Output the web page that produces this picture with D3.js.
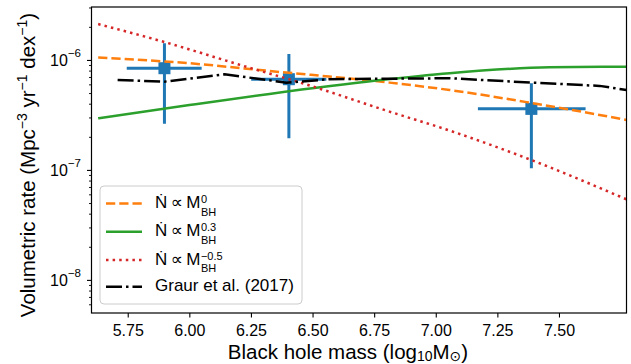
<!DOCTYPE html>
<html>
<head>
<meta charset="utf-8">
<script src="https://cdn.jsdelivr.net/npm/d3@7"></script>
<style>
    body { margin: 0; background: #fff; }
    svg text { font-family: "Liberation Sans", Arial, "DejaVu Sans", sans-serif; fill: #000; }
</style>
</head>
<body>
<svg id="chart" width="631" height="364"></svg>
<script>
// ---- data ----
var xTicks = [5.75, 6.00, 6.25, 6.50, 6.75, 7.00, 7.25, 7.50];
var yTicks = [1e-8, 1e-7, 1e-6];
var yTickExp = ["\u22128", "\u22127", "\u22126"];
var yMinorTicks = [6e-9, 7e-9, 8e-9, 9e-9, 2e-8, 3e-8, 4e-8, 5e-8, 6e-8, 7e-8, 8e-8, 9e-8,
    2e-7, 3e-7, 4e-7, 5e-7, 6e-7, 7e-7, 8e-7, 9e-7, 2e-6, 3e-6];

// N ~ M^0
var slope0Mass = [5.63, 6.0, 6.325, 6.812, 7.056, 7.381, 7.774];
var slope0Rate = [1.05e-6, 9.33e-7, 7.94e-7, 6.22e-7, 5.33e-7, 4.09e-7, 2.85e-7];
// N ~ M^0.3
var slope03Mass = [5.63, 6.0, 6.325, 6.759, 7.056, 7.462, 7.774];
var slope03Rate = [2.95e-7, 3.89e-7, 4.91e-7, 6.49e-7, 7.57e-7, 8.59e-7, 8.69e-7];
// N ~ M^-0.5
var slopeM05Mass = [5.63, 5.892, 6.244, 6.459, 6.812, 7.056, 7.388, 7.774];
var slopeM05Rate = [2.12e-6, 1.47e-6, 8.5e-7, 6.14e-7, 3.39e-7, 2.28e-7, 1.23e-7, 5.4e-8];
// Graur et al. (2017)
var graurMass = [5.709, 5.899, 6.143, 6.394, 6.569, 7.056, 7.393, 7.665, 7.774];
var graurRate = [6.58e-7, 6.35e-7, 7.41e-7, 6.22e-7, 6.68e-7, 6.82e-7, 6.22e-7, 5.81e-7, 5.33e-7];

// binned rates with error bars
var binMass = [5.899, 6.404, 7.388];
var binMassLo = [5.746, 6.251, 7.171];
var binMassHi = [6.05, 6.556, 7.608];
var binRate = [8.41e-7, 6.68e-7, 3.59e-7];
var binRateLo = [2.63e-7, 1.94e-7, 1.035e-7];
var binRateHi = [1.42e-6, 1.135e-6, 6.14e-7];

var legendSup = ["0", "0.3", "\u22120.5"];

// ---- layout ----
var plot = {left: 91.5, right: 626.5, top: 7, bottom: 313};
var svg = d3.select("#chart");

var x = d3.scaleLinear().domain([5.603, 7.774]).range([plot.left, plot.right]);
var y = d3.scaleLog().domain([5.0e-9, 3.03e-6]).range([plot.bottom, plot.top]);

function zip(xs, ys) {
    return xs.map(function (d, i) { return {m: d, r: ys[i]}; });
}

svg.append("clipPath").attr("id", "clip")
    .append("rect")
    .attr("x", plot.left).attr("y", plot.top)
    .attr("width", plot.right - plot.left).attr("height", plot.bottom - plot.top);

var body = svg.append("g").attr("clip-path", "url(#clip)");

// error bars first, model lines on top
var bars = body.append("g").attr("stroke", "#1f77b4").attr("stroke-width", 3);
binMass.forEach(function (m, i) {
    bars.append("line")
        .attr("x1", x(binMassLo[i])).attr("x2", x(binMassHi[i]))
        .attr("y1", y(binRate[i])).attr("y2", y(binRate[i]));
    bars.append("line")
        .attr("x1", x(m)).attr("x2", x(m))
        .attr("y1", y(binRateLo[i])).attr("y2", y(binRateHi[i]));
});
body.append("g").selectAll("rect")
    .data(zip(binMass, binRate))
    .enter().append("rect")
    .attr("x", function (d) { return x(d.m) - 6; })
    .attr("y", function (d) { return y(d.r) - 6; })
    .attr("width", 12).attr("height", 12)
    .attr("fill", "#1f77b4");

var smooth = d3.line()
    .x(function (d) { return x(d.m); })
    .y(function (d) { return y(d.r); })
    .curve(d3.curveMonotoneX);
var straight = d3.line()
    .x(function (d) { return x(d.m); })
    .y(function (d) { return y(d.r); });

var series = [
    {data: zip(slope0Mass, slope0Rate), color: "#ff7f0e", dash: "9.25,4", line: smooth},
    {data: zip(slope03Mass, slope03Rate), color: "#2ca02c", dash: null, line: smooth},
    {data: zip(slopeM05Mass, slopeM05Rate), color: "#d62728", dash: "2.5,4.1", line: smooth},
    {data: zip(graurMass, graurRate), color: "#000", dash: "16,4,2.5,4", line: straight}
];

series.forEach(function (s) {
    body.append("path")
        .datum(s.data)
        .attr("d", s.line)
        .attr("fill", "none")
        .attr("stroke", s.color)
        .attr("stroke-width", 2.5)
        .attr("stroke-dasharray", s.dash);
});

// ---- axes ----
var xAxis = svg.append("g")
    .attr("transform", "translate(0," + plot.bottom + ")")
    .call(d3.axisBottom(x).tickValues(xTicks).tickSize(4.5).tickFormat(d3.format(".2f")));
xAxis.select(".domain").remove();
xAxis.selectAll("text").attr("y", 23).attr("dy", 0).attr("font-size", 16);
xAxis.selectAll("line").attr("stroke-width", 1.1);

var yAxis = svg.append("g")
    .attr("transform", "translate(" + plot.left + ",0)")
    .call(d3.axisLeft(y).tickValues(yTicks).tickSize(4.5).tickFormat(""));
yAxis.select(".domain").remove();
yAxis.selectAll("line").attr("stroke-width", 1.1);

var yMinor = svg.append("g")
    .attr("transform", "translate(" + plot.left + ",0)")
    .call(d3.axisLeft(y).tickValues(yMinorTicks).tickSize(2.5).tickFormat(""));
yMinor.select(".domain").remove();
yMinor.selectAll("line").attr("stroke-width", 0.9);

yTicks.forEach(function (v, i) {
    var t = svg.append("text")
        .attr("x", 81).attr("y", y(v) + 6)
        .attr("text-anchor", "end")
        .attr("font-size", 16)
        .text("10");
    t.append("tspan").attr("dy", -8.5).attr("font-size", 11.5).text(yTickExp[i]);
});

svg.append("rect")
    .attr("x", plot.left).attr("y", plot.top)
    .attr("width", plot.right - plot.left).attr("height", plot.bottom - plot.top)
    .attr("fill", "none").attr("stroke", "#000").attr("stroke-width", 1.2);

// axis labels
var xLabel = svg.append("text")
    .attr("x", 348).attr("y", 358.5)
    .attr("text-anchor", "middle")
    .attr("font-size", 20.5)
    .text("Black hole mass (log");
xLabel.append("tspan").attr("dy", 2.5).attr("font-size", 14).text("10");
xLabel.append("tspan").attr("dy", -2.5).text("M");
xLabel.append("tspan").attr("dy", 2.5).attr("font-size", 14).text("\u2299");
xLabel.append("tspan").attr("dy", -2.5).text(")");

var yLabel = svg.append("text")
    .attr("transform", "translate(35,165) rotate(-90)")
    .attr("text-anchor", "middle")
    .attr("font-size", 20.5)
    .text("Volumetric rate (Mpc");
yLabel.append("tspan").attr("dy", -8).attr("font-size", 14).text("\u22123");
yLabel.append("tspan").attr("dy", 8).text(" yr");
yLabel.append("tspan").attr("dy", -8).attr("font-size", 14).text("\u22121");
yLabel.append("tspan").attr("dy", 8).text(" dex");
yLabel.append("tspan").attr("dy", -8).attr("font-size", 14).text("\u22121");
yLabel.append("tspan").attr("dy", 8).text(")");

// ---- legend ----
var legend = svg.append("g");
legend.append("rect")
    .attr("x", 100).attr("y", 186).attr("width", 202).attr("height", 118)
    .attr("rx", 4)
    .attr("fill", "#fff").attr("fill-opacity", 0.8)
    .attr("stroke", "#cccccc").attr("stroke-width", 1);

var baselines = [208, 236.3, 264.6, 291.3];
series.forEach(function (s, i) {
    var yb = baselines[i];
    legend.append("line")
        .attr("x1", 106).attr("x2", 142)
        .attr("y1", yb - 4.5).attr("y2", yb - 4.5)
        .attr("stroke", s.color).attr("stroke-width", 2.5)
        .attr("stroke-dasharray", s.dash);

    var label = legend.append("text")
        .attr("x", 155).attr("y", yb)
        .attr("font-size", 17);
    if (i < 3) {
        // stacked super/subscript: M^p_BH
        label.append("tspan").text("\u1E44\u2009\u221D\u2009M");
        var w = label.node().getComputedTextLength();
        label.append("tspan")
            .attr("x", 155 + w + 0.5).attr("y", yb - 5)
            .attr("font-size", 11).text(legendSup[i]);
        label.append("tspan")
            .attr("x", 155 + w + 0.5).attr("y", yb + 7.6)
            .attr("font-size", 11).text("BH");
    } else {
        label.text("Graur et al. (2017)");
    }
});
</script>
</body>
</html>
